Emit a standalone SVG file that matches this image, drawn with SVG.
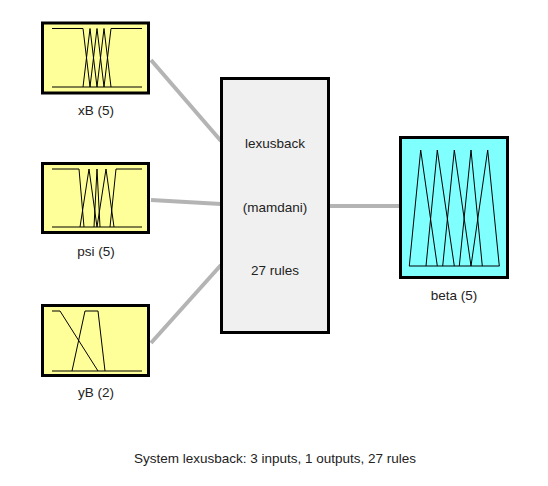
<svg xmlns="http://www.w3.org/2000/svg" width="548" height="486" viewBox="0 0 548 486">
<style>
.box{stroke:#000;stroke-width:3}
.in{fill:#ffff99}
.out{fill:#80ffff}
.sys{fill:#f0f0f0}
.mf{fill:none;stroke:#000;stroke-width:1;stroke-linejoin:miter}
.lbl{font-family:"Liberation Sans",Arial,sans-serif;font-size:13.5px;fill:#222;text-anchor:middle}
.con{stroke:#b4b4b4;stroke-width:4;fill:none}
</style>
<rect width="548" height="486" fill="#fff"/>
<g id="connectors">
<line class="con" x1="151" y1="60" x2="221" y2="141"/>
<line class="con" x1="151" y1="200" x2="221" y2="204"/>
<line class="con" x1="151" y1="343" x2="221" y2="265"/>
<line class="con" x1="329" y1="206" x2="400" y2="206"/>
</g>
<g id="xB">
<rect class="box in" x="42.5" y="23" width="106" height="70"/>
<path class="mf" d="M52 87H142M52 28.5H83L90 87M83 87L90 28.5L97 87M90 87L97 28.5L104 87M97 87L104 28.5L111 87M104 87L111 28.5H142"/>
<text class="lbl" x="96" y="115">xB (5)</text>
</g>
<g id="psi">
<rect class="box in" x="42.5" y="163.5" width="106" height="69"/>
<path class="mf" d="M52 227H142M52 169H79L84 227M80 227L89 169L97 227M94 227L97 169L100 227M97 227L106 169L114 227M110 227L116 169H142"/>
<text class="lbl" x="96" y="256">psi (5)</text>
</g>
<g id="yB">
<rect class="box in" x="42.5" y="305.5" width="106" height="70"/>
<path class="mf" d="M52 371H142M52 311H60L98 371M72 371L85 311H98L105 371"/>
<text class="lbl" x="96" y="397">yB (2)</text>
</g>
<g id="lexusback">
<rect class="box sys" x="221.5" y="78.5" width="107" height="254"/>
<text class="lbl" x="275" y="148">lexusback</text>
<text class="lbl" x="275" y="212">(mamdani)</text>
<text class="lbl" x="275" y="275">27 rules</text>
</g>
<g id="beta">
<rect class="box out" x="400.5" y="137.5" width="107" height="140"/>
<path class="mf" d="M409 266H499.5M409.3 266L420.7 150L437.3 266M426 266L437.3 150L454.3 266M442.7 266L454.3 150L471 266M459.3 266L471 150L482.3 266M471 266L487.7 150L499.3 266"/>
<text class="lbl" x="454" y="300">beta (5)</text>
</g>
<text class="lbl" x="275" y="463">System lexusback: 3 inputs, 1 outputs, 27 rules</text>
</svg>
